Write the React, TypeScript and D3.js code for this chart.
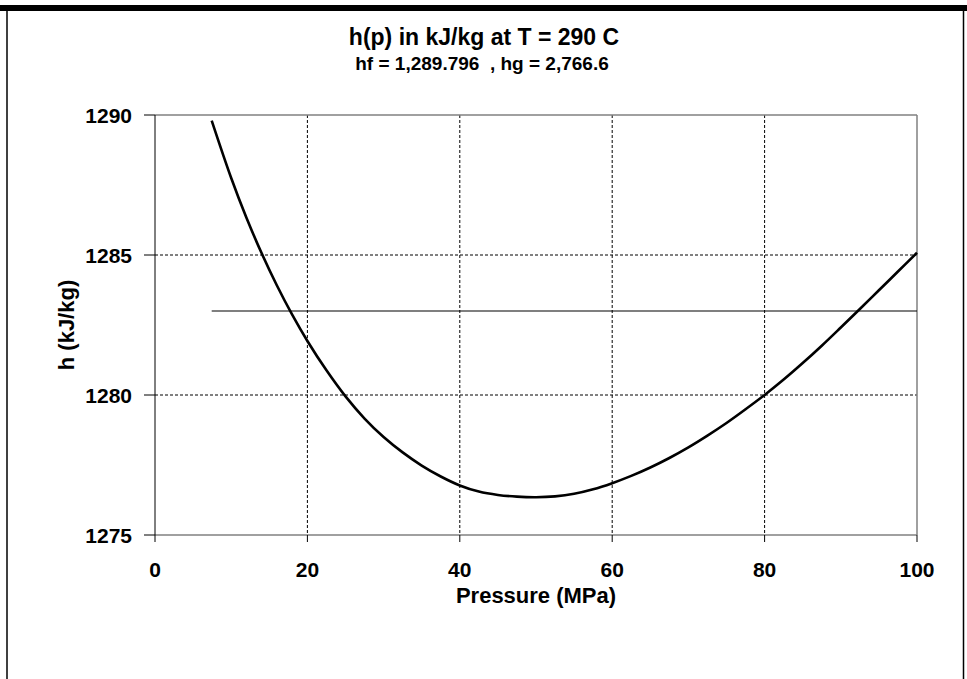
import React from "react";
import * as d3 from "d3";

const pressure = [7.44, 10, 12, 14, 16, 18, 20, 22.5, 25, 27.5, 30, 32.5, 35, 37.5, 40, 42.5, 45, 47.5, 50, 52.5, 55, 57.5, 60, 62.5, 65, 67.5, 70, 72.5, 75, 77.5, 80, 82.5, 85, 87.5, 90, 92.5, 95, 97.5, 100];
const enthalpy = [1289.8, 1287.75, 1286.33, 1285.06, 1283.91, 1282.87, 1281.93, 1280.88, 1279.95, 1279.16, 1278.5, 1277.95, 1277.48, 1277.09, 1276.77, 1276.55, 1276.43, 1276.37, 1276.35, 1276.38, 1276.47, 1276.63, 1276.85, 1277.11, 1277.41, 1277.75, 1278.13, 1278.55, 1279.0, 1279.49, 1280.0, 1280.55, 1281.14, 1281.76, 1282.41, 1283.07, 1283.74, 1284.41, 1285.08];
const refLineP = [7.44, 100];
const refLineH = [1283, 1283];
const xTicks = [0, 20, 40, 60, 80, 100];
const yTicks = [1275, 1280, 1285, 1290];
const titleText = "h(p) in kJ/kg at T = 290 C";
const subtitleText = "hf = 1,289.796  , hg = 2,766.6";
const xLabel = "Pressure (MPa)";
const yLabel = "h (kJ/kg)";

const W = 967;
const H = 679;
const plot = { left: 155, right: 917, top: 115, bottom: 535 };
const FONT = "'Liberation Sans', Arial, sans-serif";

export default function App() {
  const x = d3.scaleLinear().domain([0, 100]).range([plot.left, plot.right]);
  const y = d3.scaleLinear().domain([1275, 1290]).range([plot.bottom, plot.top]);

  const pts: [number, number][] = pressure.map((p, i) => [p, enthalpy[i]]);
  const line = d3
    .line<[number, number]>()
    .x((d) => x(d[0]))
    .y((d) => y(d[1]))
    .curve(d3.curveCatmullRom.alpha(0.5));
  const refPts: [number, number][] = refLineP.map((p, i) => [p, refLineH[i]]);
  const straight = d3
    .line<[number, number]>()
    .x((d) => x(d[0]))
    .y((d) => y(d[1]));

  return (
    <svg
      width={W}
      height={H}
      style={{ position: "absolute", left: 0, top: 0, background: "#fff" }}
      fontFamily={FONT}
    >
      <rect x={0} y={0} width={W} height={H} fill="#fff" />
      {/* frame */}
      <rect x={0} y={5} width={W} height={6} fill="#000" />
      <line x1={7} y1={11} x2={7} y2={H} stroke="#000" strokeWidth={1.5} />
      <line x1={963.5} y1={11} x2={963.5} y2={H} stroke="#000" strokeWidth={1.5} />

      {/* titles */}
      <text x={484} y={45} textAnchor="middle" fontSize={23} fontWeight="bold">
        {titleText}
      </text>
      <text x={482} y={70} textAnchor="middle" fontSize={19} fontWeight="bold" style={{ whiteSpace: "pre" }}>
        {subtitleText}
      </text>

      {/* gridlines */}
      {xTicks
        .filter((t) => t > 0 && t < 100)
        .map((t) => (
          <line
            key={"gx" + t}
            x1={x(t)}
            x2={x(t)}
            y1={plot.top}
            y2={plot.bottom}
            stroke="#000"
            strokeWidth={1}
            strokeDasharray="3,2"
          />
        ))}
      {yTicks
        .filter((t) => t > 1275 && t < 1290)
        .map((t) => (
          <line
            key={"gy" + t}
            x1={plot.left}
            x2={plot.right}
            y1={y(t)}
            y2={y(t)}
            stroke="#000"
            strokeWidth={1}
            strokeDasharray="3,2"
          />
        ))}

      {/* plot border */}
      <line x1={plot.left} x2={plot.right} y1={plot.top} y2={plot.top} stroke="#808080" strokeWidth={1.5} />
      <line x1={plot.right} x2={plot.right} y1={plot.top} y2={plot.bottom} stroke="#808080" strokeWidth={1.5} />
      <line x1={plot.left} x2={plot.right} y1={plot.bottom} y2={plot.bottom} stroke="#808080" strokeWidth={1.5} />
      <line x1={plot.left} x2={plot.left} y1={plot.top} y2={plot.bottom} stroke="#000" strokeWidth={1} />

      {/* ticks */}
      {yTicks.map((t) => (
        <g key={"yt" + t}>
          <line x1={plot.left - 11} x2={plot.left} y1={y(t)} y2={y(t)} stroke="#000" strokeWidth={1} />
          <text x={132} y={y(t) + 7.5} textAnchor="end" fontSize={21} fontWeight="bold">
            {t}
          </text>
        </g>
      ))}
      {xTicks.map((t) => (
        <g key={"xt" + t}>
          <line x1={x(t)} x2={x(t)} y1={plot.bottom} y2={plot.bottom + 7} stroke="#000" strokeWidth={1} />
          <text x={x(t)} y={577} textAnchor="middle" fontSize={21} fontWeight="bold">
            {t}
          </text>
        </g>
      ))}

      {/* axis titles */}
      <text x={(plot.left + plot.right) / 2} y={603} textAnchor="middle" fontSize={22} fontWeight="bold">
        {xLabel}
      </text>
      <text
        transform={`translate(74, ${(plot.top + plot.bottom) / 2}) rotate(-90)`}
        textAnchor="middle"
        fontSize={22}
        fontWeight="bold"
      >
        {yLabel}
      </text>

      {/* data */}
      <path d={straight(refPts) || ""} fill="none" stroke="#000" strokeWidth={1.2} />
      <path d={line(pts) || ""} fill="none" stroke="#000" strokeWidth={2.6} strokeLinejoin="round" />
    </svg>
  );
}
